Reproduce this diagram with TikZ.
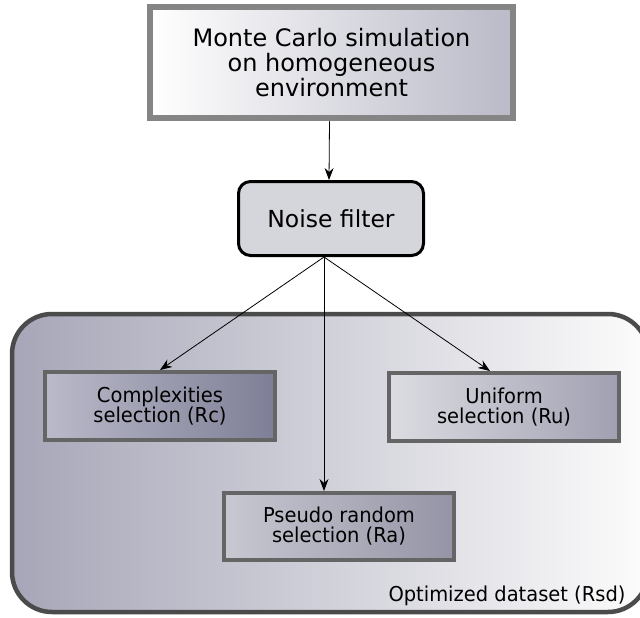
\documentclass[tikz,border=0pt]{standalone}
\usepackage{fontspec}
\setmainfont{DejaVu Sans}
\newfontfamily\narrowsans{DejaVu Sans}[FakeStretch=0.95]
\usetikzlibrary{shapes,backgrounds,arrows.meta,calc}

\definecolor{boxrim}{HTML}{858585}
\definecolor{selrim}{HTML}{656565}
\definecolor{setrim}{HTML}{4B4B4B}

\tikzset{
	bigtext/.style={font=\fontsize{24}{25}\selectfont, align=center},
	smalltext/.style={font=\narrowsans\fontsize{20.5}{20}\selectfont, align=center},
	selbox/.style={smalltext, draw=selrim, line width=4pt, inner sep=0pt,
		minimum width=230pt, minimum height=68pt},
	flow/.style={-{Stealth[length=12pt,width=9pt,inset=4pt]}, line width=0.8pt}
}

\begin{document}
\begin{tikzpicture}[x=1pt,y=-1pt]
	\useasboundingbox (0,0) rectangle (640,618);
	% container for the selections
	\node[draw=setrim, line width=4.5pt, rounded corners=40pt, inner sep=0pt,
		left color={rgb,255:red,166;green,166;blue,184}, right color={rgb,255:red,252;green,252;blue,252},
		minimum width=636pt, minimum height=298pt] (rsd) at (330,463) {};
	\node[smalltext, anchor=base east] (rsdlabel) at (629,601) {Optimized dataset (Rsd)};
	% simulation and filter
	\node[bigtext, draw=boxrim, line width=6.5pt, inner sep=0pt,
		left color=white, right color={rgb,255:red,186;green,186;blue,200},
		minimum width=363pt, minimum height=111pt] (mc) at (331.5,62.5)
		{Monte Carlo simulation\\on homogeneous\\environment};
	\node[bigtext, font=\fontsize{23.5}{25}\selectfont, draw=black, line width=3pt, rounded corners=12pt, inner sep=0pt,
		fill={rgb,255:red,213;green,213;blue,220},
		minimum width=185pt, minimum height=74pt] (noise) at (331,218.5) {Noise filter};
	\coordinate (fork) at ($(noise.south)+(-7,0)$);
	% the three selections
	\node[selbox, left color={rgb,255:red,186;green,186;blue,202}, right color={rgb,255:red,126;green,126;blue,150}]
		(rc) at (160,406) {Complexities\\selection (Rc)};
	\node[selbox, left color={rgb,255:red,220;green,220;blue,226}, right color={rgb,255:red,160;green,160;blue,178}]
		(ru) at (504,407) {Uniform\\selection (Ru)};
	\node[selbox, minimum height=67pt, left color={rgb,255:red,200;green,200;blue,210}, right color={rgb,255:red,148;green,148;blue,166}]
		(ra) at (339,526.5) {Pseudo random\\selection (Ra)};
	\draw[flow] ($(mc.south)+(-2,0)$) -- ($(noise.north)+(-2,0)$);
	\draw[flow] (fork) -- (rc.north);
	\draw[flow] (fork) -- ($(ru.north)+(-14,0)$);
	\draw[flow] (fork) -- (fork |- ra.north);
\end{tikzpicture}
\end{document}
